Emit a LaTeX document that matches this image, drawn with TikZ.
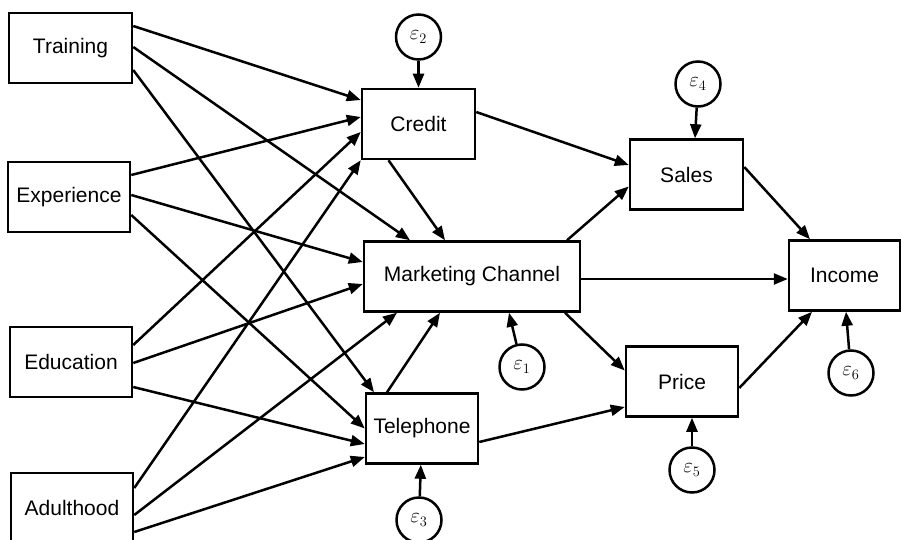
\documentclass[tikz,border=0pt]{standalone}
\usepackage{amsmath}
\usepackage{fontspec}
\setmainfont{Liberation Sans}
\usetikzlibrary{arrows.meta,calc}

\begin{document}
\begin{tikzpicture}[x=1pt, y=-1pt,
    line width=2.5pt,
    box/.style={draw, rectangle, inner sep=0pt, minimum width=#1, minimum height=70pt,
                font=\fontsize{21}{25}\selectfont},
    box/.default=112pt,
    err/.style={draw, circle, inner sep=0pt, minimum size=45pt,
                font=\fontsize{22}{26}\selectfont},
    path/.style={-{Triangle[length=14pt,width=11pt]}}]
        \useasboundingbox (0,0) rectangle (901,540);
        \node[box=123pt] (train) at (70.5, 48)  {Training};
        \node[box=122pt] (exper) at (69, 197)   {Experience};
        \node[box=122pt] (educ)  at (71, 362)   {Education};
        \node[box=122pt] (adult) at (72, 508)   {Adulthood};
        \node[box=113pt] (credit) at (418.5, 124) {Credit};
        \node[box=216pt] (market) at (472, 276.5) {Marketing Channel};
        \node[box]       (tele)   at (422, 428.5) {Telephone};
        \node[box=113pt] (sales)  at (686.5, 174.5) {Sales};
        \node[box]       (price)  at (682, 381.5) {Price};
        \node[box=111pt] (income) at (844.5, 275.5) {Income};
        \node[err] (e1) at (522, 367) {$\varepsilon_1$};
        \node[err] (e2) at (418.5, 37) {$\varepsilon_2$};
        \node[err] (e3) at (419, 520) {$\varepsilon_3$};
        \node[err] (e4) at (698, 84) {$\varepsilon_4$};
        \node[err] (e5) at (692, 470) {$\varepsilon_5$};
        \node[err] (e6) at (851, 373) {$\varepsilon_6$};

        \draw[path] ($(train.east)+(0,-22)$) -- ($(credit.west)+(0,-24)$);
        \draw[path] ($(train.east)+(0,-1)$)  -- ($(market.north)+(-62,0)$);
        \draw[path] ($(train.east)+(0,22)$)  -- ($(tele.north)+(-48,0)$);
        \draw[path] ($(exper.east)+(0,-22)$) -- ($(credit.west)+(0,-7)$);
        \draw[path] ($(exper.east)+(0,-2)$)  -- ($(market.west)+(0,-14.5)$);
        \draw[path] ($(exper.east)+(0,18)$)  -- (tele.west);
        \draw[path] ($(educ.east)+(0,-17)$)  -- ($(credit.west)+(0,8)$);
        \draw[path] ($(educ.east)+(0,1)$)    -- ($(market.west)+(0,7.5)$);
        \draw[path] ($(educ.east)+(0,25)$)   -- ($(tele.west)+(0,15.5)$);
        \draw[path] ($(adult.east)+(0,-20)$) -- (credit.south west);
        \draw[path] ($(adult.east)+(0,7)$)   -- ($(market.south)+(-75,0)$);
        \draw[path] ($(adult.east)+(0,24)$)  -- ($(tele.west)+(0,28.5)$);

        \draw[path] ($(credit.south)+(-30,0)$) -- ($(market.north)+(-27,0)$);
        \draw[path] ($(tele.north)+(-35,0)$)   -- ($(market.south)+(-32,0)$);
        \draw[path] ($(credit.east)+(0,-12)$)  -- ($(sales.west)+(0,-9.5)$);
        \draw[path] ($(market.north)+(95,0)$)  -- ($(sales.west)+(0,12)$);
        \draw[path] ($(market.east)+(0,2.5)$)  -- ($(income.west)+(0,3.5)$);
        \draw[path] ($(market.south)+(93,0)$)  -- ($(price.west)+(0,-11)$);
        \draw[path] ($(tele.east)+(0,13.5)$)   -- ($(price.west)+(0,25.5)$);
        \draw[path] ($(sales.east)+(0,-7.5)$)  -- ($(income.north)+(-34.5,0)$);
        \draw[path] ($(price.east)+(0,6.5)$)   -- ($(income.south)+(-32.5,0)$);

        \draw[path] (e1) -- ($(market.south)+(37,0)$);
        \draw[path] (e2) -- (credit);
        \draw[path] (e3) -- (tele);
        \draw[path] (e4) -- ($(sales.north)+(8.5,0)$);
        \draw[path] (e5) -- ($(price.south)+(10,0)$);
        \draw[path] (e6) -- ($(income.south)+(1.5,0)$);
\end{tikzpicture}
\end{document}
